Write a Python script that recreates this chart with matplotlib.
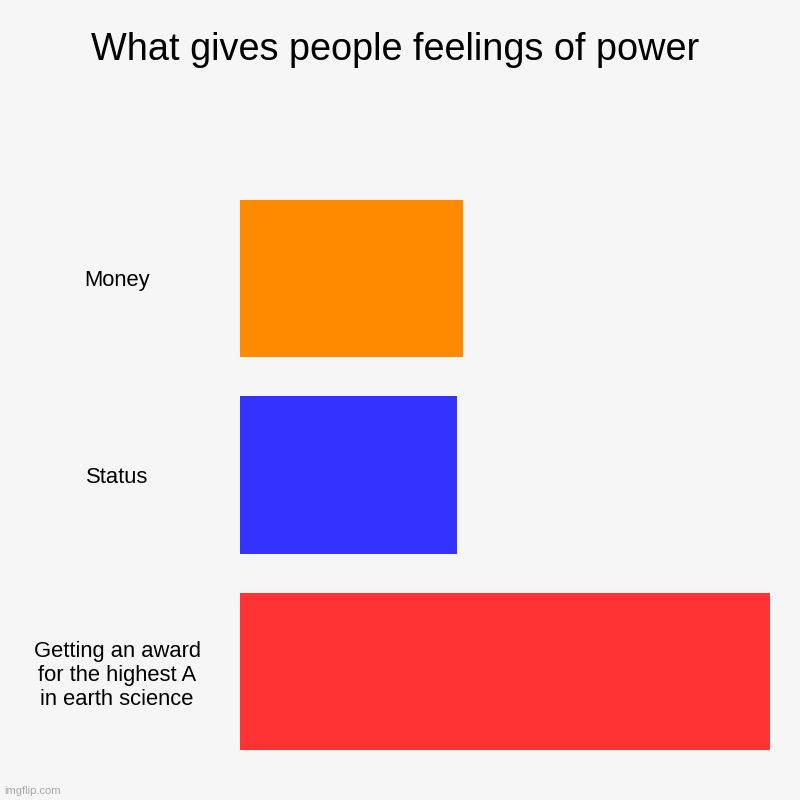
import matplotlib
matplotlib.use("Agg")
import matplotlib.pyplot as plt

# chart data
categories = ["Money", "Status", "Getting an award\nfor the highest A\nin earth science"]
values = [42, 41, 100]
colors = ["#ff8a00", "#3333ff", "#ff3333"]

plt.rcParams['font.family'] = ['Liberation Sans', 'DejaVu Sans']

fig = plt.figure(figsize=(8, 8), dpi=100, facecolor="#f6f6f6")
ax = fig.add_axes([0.3, 0.0375, 0.6625, 0.7375])
ax.set_facecolor("#f6f6f6")

y = list(range(len(categories)))
ax.barh(y, values, height=0.8, color=colors)
ax.set_ylim(len(categories) - 0.5, -0.5)
ax.set_xlim(0, max(values))

ax.set_yticks(y)
ax.set_yticklabels(categories, fontsize=15.8, ha="center", linespacing=1.17)
ax.tick_params(axis="y", length=0, pad=88.5)
ax.set_xticks([])
for s in ax.spines.values():
    s.set_visible(False)

fig.text(0.494, 0.937, "What gives people feelings of power", ha="center", va="center", fontsize=27.3)
fig.text(0.005, 0.008, "imgflip.com", fontsize=8, color="#aaaaaa")

fig.savefig("out.png", dpi=100, facecolor=fig.get_facecolor())
